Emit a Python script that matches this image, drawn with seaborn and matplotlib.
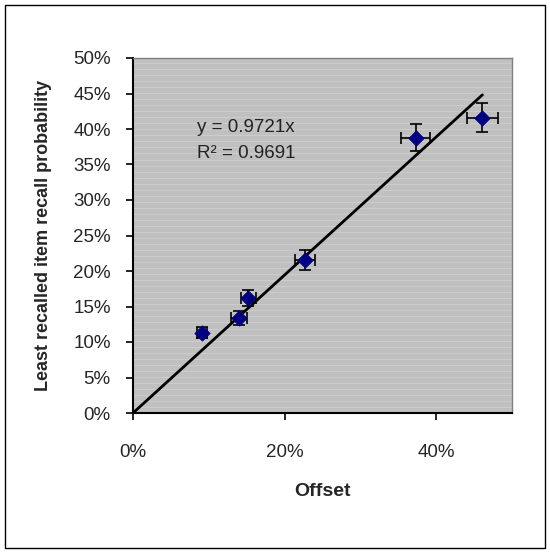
import numpy as np
import pandas as pd
import seaborn as sns
import matplotlib.pyplot as plt
from matplotlib.ticker import PercentFormatter

# values (percent)
offset = [9.1, 14.0, 15.2, 22.7, 37.3, 46.1]
recall = [11.3, 13.4, 16.2, 21.6, 38.8, 41.6]
offset_err = [0.7, 1.1, 1.0, 1.3, 1.9, 2.0]
recall_err = [0.8, 1.0, 1.1, 1.4, 1.85, 2.0]
slope = 0.9721
r2 = 0.9691

df = pd.DataFrame({'offset': offset, 'recall': recall})

sns.set_style("white")
plt.rcParams['font.family'] = ['Liberation Sans', 'DejaVu Sans']

fig = plt.figure(figsize=(5.5, 5.53), dpi=100)
# outer chart border
fig.patches.append(plt.Rectangle((5 / 550, 5 / 553), 540 / 550, 543 / 553,
                                 transform=fig.transFigure, fill=False,
                                 edgecolor='black', linewidth=1))
ax = fig.add_axes([133 / 550, 1 - 413 / 553, 379 / 550, 355 / 553])
ax.set_facecolor('#c0c0c0')

# Excel-ish fine horizontal stripe pattern
for yy in np.arange(0, 50, 0.85):
    ax.axhline(yy, color='#cfcfcf', linewidth=0.6, zorder=0)

# trendline
xs = np.array([0, max(offset)])
sns.lineplot(x=xs, y=slope * xs, color='black', linewidth=2, ax=ax, zorder=2)

ax.errorbar(offset, recall, xerr=offset_err, yerr=recall_err, fmt='none',
            ecolor='black', elinewidth=1.2, capsize=4, capthick=1.2, zorder=3)
sns.scatterplot(data=df, x='offset', y='recall', marker='D', s=60,
                color='#000080', edgecolor='#000080', ax=ax, zorder=4)

ax.text(8.5, 40.2, f'y = {slope}x', fontsize=13.5, va='center', color='#222222')
ax.text(8.5, 36.5, f'R² = {r2}', fontsize=13.5, va='center', color='#222222')

ax.set_xlim(0, 50)
ax.set_ylim(0, 50)
ax.set_xticks([0, 20, 40])
ax.set_yticks(np.arange(0, 51, 5))
ax.xaxis.set_major_formatter(PercentFormatter(decimals=0))
ax.yaxis.set_major_formatter(PercentFormatter(decimals=0))
ax.tick_params(axis='both', direction='out', length=5, width=1.2, labelsize=13.5,
               bottom=True, left=True, color='black')
ax.tick_params(axis='x', pad=17)
ax.tick_params(axis='y', pad=11)

for s in ['left', 'bottom']:
    ax.spines[s].set_color('black')
    ax.spines[s].set_linewidth(1.5)
for s in ['top', 'right']:
    ax.spines[s].set_color('#808080')
    ax.spines[s].set_linewidth(1)

ax.set_xlabel('Offset', fontsize=14, fontweight='bold', labelpad=16)
ax.set_ylabel('Least recalled item recall probability', fontsize=13,
              fontweight='bold', labelpad=15)

fig.savefig('out.png', dpi=100)
